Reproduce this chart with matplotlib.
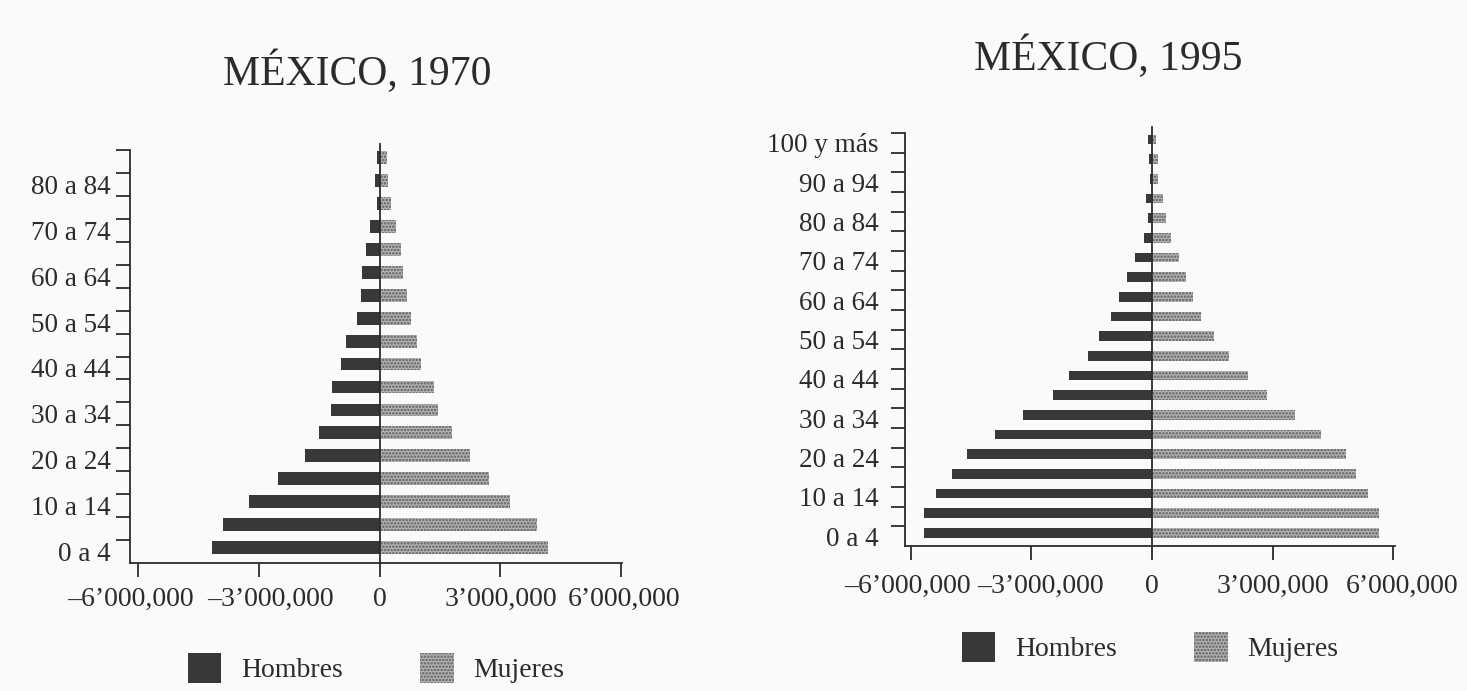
import matplotlib
matplotlib.use("Agg")
import matplotlib.pyplot as plt
from matplotlib.patches import Patch
from matplotlib.transforms import ScaledTranslation

plt.rcParams['font.family'] = ['Liberation Serif', 'DejaVu Serif']
plt.rcParams['hatch.linewidth'] = 1.2

INK = '#2b2b2b'
DARK = '#383838'
LIGHT = '#b4b4b4'
DOTS = '#5a5a5a'

# population by five-year age group, millions of people
grupos_1970 = ["0 a 4", "5 a 9", "10 a 14", "15 a 19", "20 a 24", "25 a 29",
               "30 a 34", "35 a 39", "40 a 44", "45 a 49", "50 a 54", "55 a 59",
               "60 a 64", "65 a 69", "70 a 74", "75 a 79", "80 a 84", "85 y más"]
hombres_1970 = [4.16, 3.88, 3.25, 2.52, 1.85, 1.50, 1.21, 1.19, 0.95,
                0.83, 0.57, 0.46, 0.45, 0.34, 0.24, 0.07, 0.11, 0.07]
mujeres_1970 = [4.19, 3.90, 3.25, 2.72, 2.24, 1.79, 1.45, 1.36, 1.03,
                0.92, 0.79, 0.68, 0.57, 0.52, 0.40, 0.29, 0.21, 0.19]

grupos_1995 = ["0 a 4", "5 a 9", "10 a 14", "15 a 19", "20 a 24", "25 a 29",
               "30 a 34", "35 a 39", "40 a 44", "45 a 49", "50 a 54", "55 a 59",
               "60 a 64", "65 a 69", "70 a 74", "75 a 79", "80 a 84", "85 a 89",
               "90 a 94", "95 a 99", "100 y más"]
hombres_1995 = [5.66, 5.67, 5.37, 4.98, 4.59, 3.90, 3.20, 2.46, 2.07, 1.58, 1.31,
                1.03, 0.81, 0.61, 0.42, 0.19, 0.10, 0.14, 0.04, 0.08, 0.10]
mujeres_1995 = [5.65, 5.65, 5.36, 5.08, 4.81, 4.20, 3.55, 2.86, 2.38, 1.92, 1.53,
                1.21, 1.03, 0.84, 0.66, 0.47, 0.36, 0.28, 0.15, 0.15, 0.11]

xticks = [-6, -3, 0, 3, 6]
xlabels = ["\u20136\u2019000,000", "\u20133\u2019000,000", "0",
           "3\u2019000,000", "6\u2019000,000"]

W, H = 1467, 691
fig = plt.figure(figsize=(W / 100, H / 100), dpi=100)
fig.patch.set_facecolor('#fafafa')


def piramide(rect, grupos, hombres, mujeres, xlim, bar_h, ylab_pad, xlab_pad, nudge,
             titulo, tpos, lpos):
    ax = fig.add_axes([rect[0] / W, 1 - rect[3] / H, (rect[2] - rect[0]) / W, (rect[3] - rect[1]) / H])
    ax.set_facecolor('none')
    n = len(grupos)
    y = [i + 1 - 0.33 for i in range(n)]
    ax.barh(y, [-v for v in hombres], height=bar_h, color=DARK, linewidth=0)
    ax.barh(y, mujeres, height=bar_h, color=LIGHT, hatch='.....', edgecolor=DOTS, linewidth=0)
    ax.set_xlim(*xlim)
    ax.set_ylim(0, n)
    ax.axvline(0, ymin=0, ymax=1.015, color=INK, lw=1.3, clip_on=False)

    for s in ['top', 'right']:
        ax.spines[s].set_visible(False)
    for s in ['left', 'bottom']:
        ax.spines[s].set_color(INK)
        ax.spines[s].set_linewidth(1.3)

    ax.set_xticks(xticks)
    ax.set_xticklabels(xlabels, fontsize=20, color=INK)
    ax.tick_params(axis='x', direction='out', length=10, width=1.3, color=INK, pad=xlab_pad)
    # spread the long labels apart a little so they do not run together
    for lab, dx in zip(ax.get_xticklabels(), nudge):
        lab.set_transform(lab.get_transform() + ScaledTranslation(dx / 100, 0, fig.dpi_scale_trans))

    # ticks at the top edge of each age group, labels every ten years
    ax.set_yticks(range(1, n + 1))
    ax.set_yticklabels([])
    ax.tick_params(axis='y', which='major', direction='out', length=10, width=1.3, color=INK)
    ax.set_yticks([i + 0.5 for i in range(0, n, 2)], minor=True)
    ax.set_yticklabels(grupos[::2], minor=True, fontsize=19.5, color=INK)
    ax.tick_params(axis='y', which='minor', length=0, pad=ylab_pad)

    fig.text(tpos[0] / W, 1 - tpos[1] / H, titulo, fontsize=30, color=INK, ha='center', va='center')

    handles = [Patch(facecolor=DARK, linewidth=0, label='Hombres'),
               Patch(facecolor=LIGHT, hatch='.....', edgecolor=DOTS, linewidth=0, label='Mujeres')]
    leg = ax.legend(handles=handles, ncol=2, loc='center', bbox_to_anchor=(lpos[0] / W, 1 - lpos[1] / H),
                    bbox_transform=fig.transFigure, frameon=False, fontsize=20,
                    handlelength=1.2, handleheight=1.3, handletextpad=0.7, columnspacing=2.8)
    for t in leg.get_texts():
        t.set_color(INK)
    return ax


piramide((130, 150, 622, 563), grupos_1970, hombres_1970, mujeres_1970, (-6.2, 6.02), 0.56, 14, 7,
         (-8, 12, 0, 0, 3), "MÉXICO, 1970", (357, 72), (376, 668))
piramide((905, 133, 1395, 546), grupos_1995, hombres_1995, mujeres_1995, (-6.14, 6.04), 0.5, 19, 10,
         (-3, 9, 0, 0, 9), "MÉXICO, 1995", (1108, 57), (1150, 647))

fig.savefig("out.png", dpi=100, facecolor=fig.get_facecolor())
